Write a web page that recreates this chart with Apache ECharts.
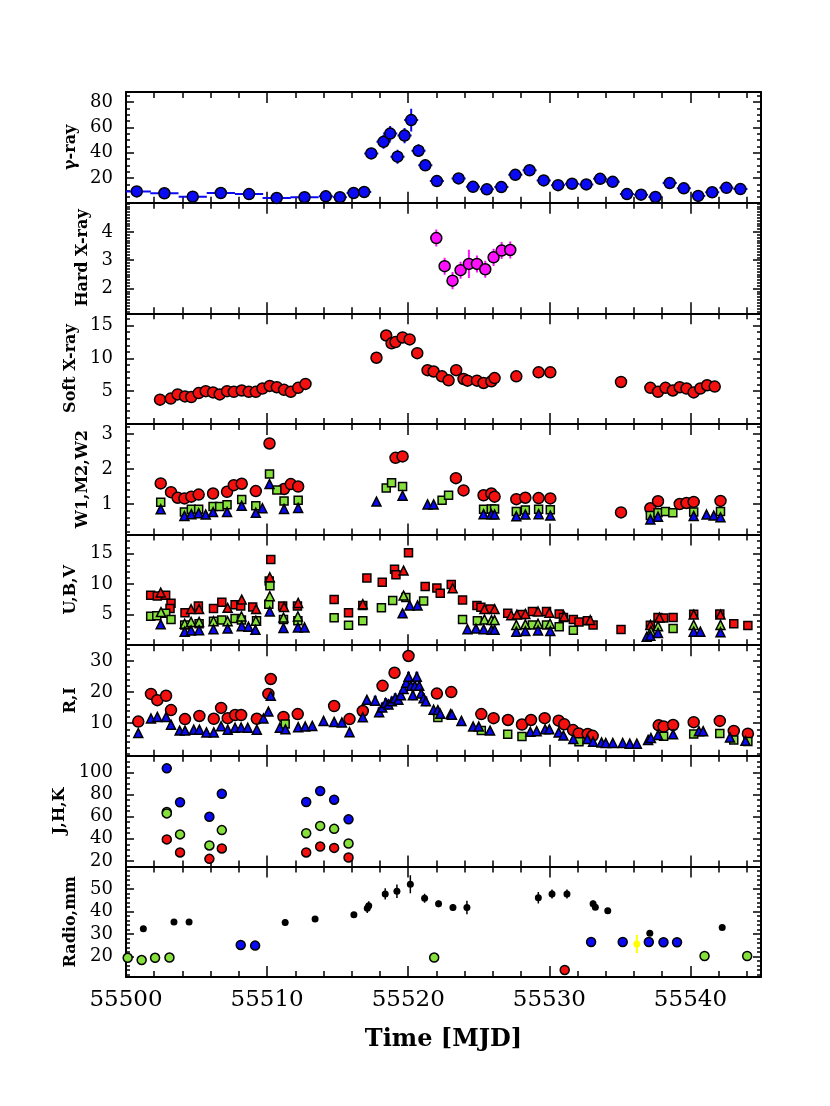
<!DOCTYPE html>
<html>
<head>
<meta charset="utf-8">
<script src="https://cdn.jsdelivr.net/npm/echarts@6/dist/echarts.min.js"></script>
<style>
  html, body { margin: 0; padding: 0; background: #fff; }
  #lightCurve { width: 830px; height: 1106px; }
</style>
</head>
<body>
<div id="lightCurve"></div>
<script>
// ---- data (MJD, value) ----
const xTicks = [55500, 55510, 55520, 55530, 55540];

// gamma-ray: time, flux, y error, half bin width
const gammaTime = [55500.76, 55502.72, 55504.73, 55506.72, 55508.72, 55510.68, 55512.65, 55514.16, 55515.16, 55516.13, 55516.88,
  55517.38, 55518.25, 55518.72, 55519.24, 55519.74, 55520.21, 55520.73, 55521.21,
  55522.03, 55523.57, 55524.59, 55525.57, 55526.60, 55527.59, 55528.60, 55529.60, 55530.62, 55531.61, 55532.62, 55533.60, 55534.49,
  55535.50, 55536.50, 55537.52, 55538.53, 55539.53, 55540.55, 55541.54, 55542.55, 55543.54];
const gammaFlux = [9.6, 8.1, 5.4, 8.3, 7.5, 4.4, 5.0, 5.7, 5.0, 8.3, 9.1,
  39.5, 48.6, 55.1, 36.9, 53.5, 65.7, 41.6, 30.1,
  17.7, 19.8, 13.2, 11.2, 13.0, 22.6, 26.2, 18.2, 14.5, 15.6, 15.1, 19.5, 17.1,
  7.5, 7.0, 5.2, 16.1, 12.0, 6.0, 8.9, 12.4, 11.4];
const gammaErr = [1.5, 1.5, 1.5, 1.5, 1.5, 1.5, 1.5, 1.5, 1.5, 2, 2,
  4.5, 5.5, 6, 5.5, 6, 9, 5, 4.5,
  2.5, 2, 2, 2, 2, 2.5, 2.5, 2, 2, 2, 2, 2, 2,
  1.5, 1.5, 1.5, 2, 2, 1.5, 1.5, 2, 1.5];
const gammaBin = [1, 1, 1, 1, 1, 1, 1, 0.5, 0.5, 0.5, 0.5,
  0.5, 0.5, 0.5, 0.5, 0.5, 0.5, 0.5, 0.5,
  0.5, 0.5, 0.5, 0.5, 0.5, 0.5, 0.5, 0.5, 0.5, 0.5, 0.5, 0.5, 0.5,
  0.5, 0.5, 0.5, 0.5, 0.5, 0.5, 0.5, 0.5, 0.5];

const hardTime = [55521.99, 55522.58, 55523.14, 55523.71, 55524.30, 55524.87, 55525.46, 55526.05, 55526.62, 55527.23];
const hardFlux = [3.78, 2.79, 2.28, 2.65, 2.87, 2.87, 2.68, 3.10, 3.34, 3.36];
const hardErr = [0.3, 0.3, 0.3, 0.3, 0.5, 0.3, 0.3, 0.3, 0.3, 0.3];

const softX = [[55502.41, 3.7], [55503.17, 3.86], [55503.66, 4.5], [55504.18, 4.2], [55504.63, 4.1], [55505.15, 4.7], [55505.65, 5.0],
  [55506.17, 4.8], [55506.64, 4.5], [55507.16, 5.0], [55507.64, 4.9], [55508.2, 5.1], [55508.7, 4.9], [55509.2, 4.9], [55509.67, 5.4],
  [55510.19, 5.8], [55510.69, 5.6], [55511.2, 5.2], [55511.68, 4.9], [55512.2, 5.5], [55512.72, 6.1],
  [55517.75, 10.1], [55518.44, 13.5], [55518.82, 12.3], [55519.1, 12.5], [55519.6, 13.2], [55520.1, 12.9], [55520.64, 10.8],
  [55521.37, 8.2], [55521.8, 8.0], [55522.39, 7.26], [55522.86, 6.65], [55523.4, 8.2], [55523.92, 6.86], [55524.2, 6.6],
  [55524.87, 6.6], [55525.34, 6.25], [55525.89, 6.5], [55526.12, 7.0], [55527.66, 7.26], [55529.24, 7.87], [55530.07, 7.87],
  [55535.08, 6.4], [55537.16, 5.5], [55537.7, 4.9], [55538.23, 5.5], [55538.75, 5.1], [55539.24, 5.6], [55539.72, 5.4],
  [55540.23, 4.8], [55540.7, 5.4], [55541.18, 5.9], [55541.72, 5.7]];

const uvotW2 = [[55502.46, 1.59], [55503.19, 1.34], [55503.66, 1.18], [55504.14, 1.16], [55504.63, 1.21], [55505.15, 1.27], [55506.17, 1.30],
  [55507.16, 1.35], [55507.64, 1.54], [55508.2, 1.58], [55509.2, 1.37], [55510.17, 2.73], [55511.2, 1.43], [55511.68, 1.57], [55512.2, 1.50],
  [55519.1, 2.32], [55519.6, 2.36], [55523.38, 1.74], [55523.92, 1.39], [55525.34, 1.25], [55525.89, 1.30], [55526.12, 1.21],
  [55527.66, 1.14], [55528.3, 1.18], [55529.24, 1.17], [55530.07, 1.16], [55535.08, 0.76], [55537.16, 0.88], [55537.7, 1.08],
  [55539.24, 1.0], [55539.72, 1.03], [55540.23, 1.06], [55542.13, 1.09]];
const uvotM2 = [[55502.46, 1.05], [55504.14, 0.77], [55504.63, 0.85], [55505.15, 0.85], [55506.17, 0.93], [55506.64, 0.93], [55507.16, 0.98],
  [55508.2, 1.13], [55509.2, 0.95], [55510.17, 1.86], [55510.69, 1.40], [55511.2, 1.09], [55512.2, 1.11], [55518.44, 1.46], [55518.82, 1.61],
  [55519.6, 1.50], [55522.4, 1.11], [55522.86, 1.25], [55525.34, 0.85], [55525.89, 0.86], [55526.12, 0.86], [55527.66, 0.79],
  [55528.3, 0.83], [55529.24, 0.85], [55530.07, 0.84], [55537.16, 0.67], [55537.7, 0.75], [55538.23, 0.79], [55538.75, 0.75],
  [55540.23, 0.77], [55542.13, 0.79]];
const uvotW1 = [[55502.46, 0.85], [55504.14, 0.66], [55504.63, 0.71], [55505.15, 0.74], [55505.65, 0.70], [55506.17, 0.77], [55507.16, 0.77],
  [55508.2, 0.95], [55509.2, 0.75], [55509.67, 0.88], [55510.17, 1.57], [55511.2, 0.86], [55512.2, 0.89], [55517.75, 1.07], [55519.6, 1.24],
  [55521.37, 0.99], [55521.8, 0.99], [55525.34, 0.71], [55525.89, 0.71], [55526.12, 0.70], [55527.66, 0.65], [55528.3, 0.70],
  [55529.24, 0.71], [55530.07, 0.67], [55537.16, 0.56], [55537.7, 0.64], [55540.23, 0.66], [55541.14, 0.70], [55541.65, 0.67],
  [55542.13, 0.62]];

const uSquares = [[55501.75, 8.16], [55502.22, 8.05], [55502.81, 8.16], [55503.19, 6.85], [55503.12, 6.0], [55504.18, 5.3], [55505.13, 6.4],
  [55506.2, 6.0], [55506.79, 7.0], [55507.73, 6.6], [55508.13, 6.4], [55508.98, 6.25], [55510.15, 10.5], [55510.26, 14.0], [55511.1, 6.4],
  [55512.15, 6.4], [55514.75, 7.45], [55515.77, 5.3], [55516.78, 6.5], [55517.07, 11.0], [55518.16, 10.3], [55519.03, 12.4], [55519.13, 11.5],
  [55520.02, 15.1], [55521.2, 9.6], [55522.03, 9.35], [55522.27, 8.5], [55523.05, 9.9], [55523.85, 7.4], [55524.87, 6.5], [55525.15, 6.2],
  [55525.82, 5.9], [55527.05, 5.2], [55528.06, 5.0], [55528.8, 5.5], [55529.8, 5.5], [55530.7, 5.1], [55531.0, 4.5], [55531.7, 4.2],
  [55532.1, 3.8], [55532.7, 4.0], [55533.1, 3.3], [55535.08, 2.55], [55537.16, 3.26], [55537.7, 4.5], [55538.1, 4.45], [55538.77, 4.5],
  [55540.23, 5.05], [55542.08, 5.1], [55543.07, 3.5], [55544.07, 3.2]];
const uTriangles = [[55502.46, 8.6], [55504.61, 5.9], [55505.18, 5.9], [55507.2, 6.1], [55508.2, 7.45], [55509.22, 5.9], [55510.19, 11.1],
  [55511.2, 6.25], [55512.2, 6.9], [55516.78, 6.7], [55519.67, 12.2], [55523.15, 9.3], [55525.4, 5.9], [55526.12, 5.9], [55527.3, 4.9],
  [55527.7, 5.0], [55528.3, 5.1], [55529.2, 5.5], [55530.0, 5.3], [55531.05, 4.7], [55532.9, 4.1], [55537.16, 3.3], [55537.8, 4.5],
  [55540.23, 5.0], [55542.13, 5.0]];
const bSquares = [[55501.75, 4.73], [55502.18, 4.8], [55502.81, 5.2], [55503.19, 4.2], [55504.16, 3.3], [55505.18, 3.5], [55506.2, 3.9],
  [55506.79, 4.1], [55507.73, 4.35], [55508.18, 4.1], [55509.25, 4.0], [55510.12, 6.7], [55510.2, 9.7], [55511.16, 4.2], [55512.18, 4.0],
  [55514.75, 4.46], [55515.77, 3.26], [55516.78, 4.0], [55518.1, 6.1], [55518.9, 7.3], [55519.83, 7.8], [55521.09, 7.2], [55523.85, 4.2],
  [55524.9, 4.0], [55528.8, 3.3], [55529.8, 3.3], [55530.7, 3.0], [55531.7, 2.45], [55538.77, 2.7]];
const bTriangles = [[55502.48, 5.4], [55504.16, 3.5], [55504.61, 3.8], [55505.18, 3.8], [55506.2, 3.9], [55507.2, 3.9], [55508.18, 4.7],
  [55509.2, 4.0], [55510.19, 8.0], [55511.16, 4.5], [55512.18, 4.7], [55519.67, 8.1], [55525.4, 4.2], [55525.9, 4.1], [55526.12, 4.1],
  [55527.66, 3.3], [55528.3, 3.4], [55529.2, 3.5], [55530.05, 3.5], [55537.2, 2.3], [55537.7, 3.1], [55540.23, 3.3], [55542.13, 3.3]];
const vTriangles = [[55502.46, 3.4], [55504.16, 2.2], [55504.61, 2.4], [55505.18, 2.45], [55506.2, 2.6], [55507.2, 2.7], [55508.2, 3.1],
  [55508.68, 3.0], [55509.17, 2.5], [55510.19, 5.5], [55511.16, 2.8], [55512.18, 2.9], [55512.65, 2.9], [55519.6, 5.2], [55520.1, 6.5],
  [55520.66, 6.5], [55524.2, 2.6], [55524.8, 2.7], [55525.35, 2.6], [55525.9, 2.5], [55526.12, 2.5], [55527.66, 2.2], [55528.3, 2.3],
  [55529.2, 2.4], [55530.07, 2.3], [55536.9, 1.35], [55537.16, 1.55], [55537.7, 2.0], [55540.23, 2.2], [55540.7, 2.2], [55542.13, 2.1]];

const rCircles = [[55500.87, 10.5], [55501.77, 19.4], [55502.22, 17.4], [55502.84, 18.8], [55503.19, 14.2], [55504.18, 11.3], [55505.2, 12.3],
  [55506.22, 11.4], [55506.74, 14.9], [55507.21, 11.6], [55507.73, 12.6], [55508.16, 12.6], [55509.27, 11.4], [55510.09, 19.4], [55510.26, 24.2],
  [55511.16, 12.0], [55512.17, 12.9], [55514.75, 15.5], [55515.84, 11.3], [55516.78, 13.9], [55518.18, 22.0], [55519.03, 26.2], [55520.02, 31.6],
  [55522.03, 19.5], [55523.05, 20.0], [55525.18, 12.9], [55526.05, 11.6], [55527.07, 11.0], [55528.06, 9.55], [55528.7, 11.0], [55529.67, 11.6],
  [55530.66, 10.8], [55531.06, 9.6], [55531.68, 7.75], [55532.08, 6.7], [55532.72, 6.5], [55533.07, 5.9], [55537.75, 9.3], [55538.1, 8.9],
  [55538.77, 9.4], [55540.23, 10.3], [55542.08, 10.7], [55543.07, 7.5], [55544.07, 6.6]];
const iTriangles = [[55500.87, 6.8], [55501.77, 11.5], [55502.22, 12.0], [55502.84, 12.0], [55503.19, 9.5], [55503.8, 7.6], [55504.18, 7.6],
  [55504.8, 7.9], [55505.2, 7.9], [55505.7, 7.0], [55506.22, 7.0], [55506.74, 9.0], [55507.21, 7.9], [55507.73, 8.5], [55508.16, 8.6],
  [55508.63, 8.5], [55509.27, 7.9], [55509.74, 11.5], [55510.09, 13.7], [55510.26, 18.8], [55510.9, 8.5], [55511.3, 8.0], [55512.2, 8.7],
  [55512.7, 8.9], [55513.2, 9.1], [55514.0, 10.7], [55514.75, 10.4], [55515.3, 10.2], [55515.84, 7.1], [55516.78, 11.9], [55517.07, 17.5],
  [55517.66, 17.2], [55517.94, 13.5], [55518.16, 15.0], [55518.4, 16.5], [55518.6, 16.0], [55518.84, 17.0], [55519.08, 18.0], [55519.3, 17.5],
  [55519.48, 19.0], [55519.67, 21.0], [55519.86, 23.0], [55520.02, 24.9], [55520.19, 22.0], [55520.33, 19.0], [55520.47, 22.0], [55520.61, 24.9],
  [55520.78, 22.0], [55520.92, 19.5], [55521.09, 18.0], [55521.25, 17.0], [55521.8, 14.3], [55522.1, 14.2], [55522.27, 13.0], [55523.0, 12.9],
  [55523.1, 12.7], [55523.77, 10.7], [55524.6, 8.9], [55525.0, 8.9], [55525.8, 7.6], [55528.65, 7.2], [55529.1, 7.4], [55529.7, 8.0],
  [55530.0, 8.0], [55530.66, 7.0], [55531.0, 6.0], [55531.7, 4.9], [55532.7, 4.9], [55533.1, 4.0], [55533.7, 3.8], [55534.0, 3.6],
  [55534.5, 3.6], [55535.2, 3.6], [55535.7, 3.4], [55536.2, 3.4], [55537.0, 4.6], [55537.2, 5.2], [55537.7, 6.2], [55538.77, 6.4],
  [55540.6, 7.4], [55540.9, 7.4], [55542.8, 5.4], [55543.9, 4.3]];
const iFlareErr = 1.6;
const rSquares = [[55511.28, 9.7], [55522.1, 11.8], [55525.18, 7.6], [55527.05, 6.4], [55528.06, 5.7], [55532.1, 4.0], [55538.1, 5.8],
  [55540.23, 6.5], [55542.08, 6.7], [55543.07, 4.6], [55544.07, 4.1]];

const jBand = [[55502.89, 103.6], [55503.83, 72.9], [55505.91, 59.8], [55506.79, 80.6], [55512.77, 73.2], [55513.76, 83.1], [55514.75, 75.3], [55515.77, 57.5]];
const hBand = [[55502.89, 64.1], [55502.89, 62.9], [55503.83, 43.9], [55505.91, 33.9], [55506.79, 47.8], [55512.77, 45.0], [55513.76, 51.6], [55514.75, 48.9], [55515.77, 35.7]];
const kBand = [[55502.89, 39.4], [55503.83, 27.6], [55505.91, 21.8], [55506.79, 31.2], [55512.77, 27.6], [55513.76, 32.9], [55514.75, 31.7], [55515.77, 23.0]];

// radio: time, flux, error
const radioBlack = [[55501.23, 32.4, 1], [55503.4, 35.4, 1], [55504.47, 35.4, 1], [55511.28, 35.1, 1.5], [55513.4, 36.7, 1], [55516.15, 38.6, 1],
  [55517.1, 41.4, 2], [55517.2, 42.6, 2], [55518.37, 47.8, 2.5], [55519.2, 49.0, 3], [55520.15, 52.1, 4], [55521.16, 45.9, 2], [55522.15, 43.4, 1.5],
  [55523.17, 41.8, 1.5], [55524.16, 41.8, 3], [55529.22, 46.1, 2.5], [55530.19, 47.8, 2], [55531.25, 47.8, 2], [55533.1, 43.4, 1.5],
  [55533.26, 41.9, 1], [55534.14, 40.4, 1], [55537.12, 30.4, 1], [55542.25, 32.9, 1]];
const radioGreen = [[55500.12, 19.5], [55501.11, 18.5], [55502.06, 19.5], [55503.08, 19.6], [55521.84, 19.6], [55541.0, 20.3], [55544.02, 20.3]];
const radioBlue = [[55508.13, 25.2], [55509.15, 24.9], [55532.96, 26.5], [55535.2, 26.5], [55537.05, 26.5], [55538.09, 26.4], [55539.05, 26.4]];
const radioRed = [[55531.09, 14.1]];
const radioYellow = [[55536.2, 25.6, 4]];

// ---- panels ----
const panels = [
  { label: 'γ-ray',      min: 0.75, max: 87.8, ticks: [20, 40, 60, 80],         minor: 5,   gap: 46 },
  { label: 'Hard X-ray', min: 1.13, max: 5.03, ticks: [2, 3, 4],                minor: 0.1, gap: 29 },
  { label: 'Soft X-ray', min: 0,    max: 16.9, ticks: [5, 10, 15],              minor: 1,   gap: 46 },
  { label: 'W1,M2,W2',   min: 0.13, max: 3.29, ticks: [1, 2, 3],                minor: 0.2, gap: 29 },
  { label: 'U,B,V',      min: 0,    max: 18.1, ticks: [5, 10, 15],              minor: 1,   gap: 46 },
  { label: 'R,I',        min: -0.5, max: 35.1, ticks: [10, 20, 30],             minor: 2,   gap: 46 },
  { label: 'J,H,K',      min: 15,   max: 115,  ticks: [20, 40, 60, 80, 100],    minor: 5,   gap: 52 },
  { label: 'Radio,mm',   min: 11,   max: 60,   ticks: [20, 30, 40, 50],         minor: 2,   gap: 46 }
];

const BLUE = '#0a0af5', RED = '#f51010', GREEN = '#86e03c', MAGENTA = '#ff10ff', YELLOW = '#ffff00';
const SERIF = "'DejaVu Serif', serif";
const PANEL_TOP = 92, PANEL_H = 110.625, X_MIN = 55500, X_MAX = 55545;

function minorValues(min, max, step, majors) {
  const out = [];
  for (let v = Math.ceil(min / step) * step; v <= max + 1e-9; v += step) {
    const r = Math.round(v * 1000) / 1000;
    if (!majors.some(m => Math.abs(m - r) < 1e-6)) out.push(r);
  }
  return out;
}
const xMinor = minorValues(X_MIN, X_MAX, 2, xTicks);

const grids = [], xAxes = [], yAxes = [], series = [];
const blackLine = { color: '#000', width: 2 };
const tickLine = { color: '#000', width: 1.5 };

panels.forEach((p, i) => {
  const last = i === panels.length - 1;
  grids.push({ left: 126, width: 635, top: PANEL_TOP + i * PANEL_H, height: PANEL_H });
  const xb = { type: 'value', gridIndex: i, min: X_MIN, max: X_MAX, splitLine: { show: false } };
  const mkX = (pos, major) => ({
    ...xb, position: pos,
    axisLine: { show: major, onZero: false, lineStyle: blackLine },
    axisTick: { show: true, inside: true, length: major ? 11 : 6, customValues: major ? xTicks : xMinor, lineStyle: tickLine },
    axisLabel: { show: false }
  });
  const xMain = mkX('bottom', true);
  if (last) {
    xMain.axisLabel = { show: true, customValues: xTicks, margin: 12, fontFamily: SERIF, fontSize: 23, color: '#000', formatter: v => String(v) };
    xMain.name = 'Time [MJD]';
    xMain.nameLocation = 'middle';
    xMain.nameGap = 51;
    xMain.nameTextStyle = { fontFamily: SERIF, fontWeight: 'bold', fontSize: 24, color: '#000' };
  }
  xAxes.push(xMain, mkX('bottom', false), mkX('top', true), mkX('top', false));

  const yMinor = minorValues(p.min, p.max, p.minor, p.ticks);
  const yb = { type: 'value', gridIndex: i, min: p.min, max: p.max, splitLine: { show: false } };
  const mkY = (pos, major) => ({
    ...yb, position: pos,
    axisLine: { show: major, onZero: false, lineStyle: blackLine },
    axisTick: { show: true, inside: true, length: major ? 8 : 4, customValues: major ? p.ticks : yMinor, lineStyle: tickLine },
    axisLabel: { show: false }
  });
  const yMain = mkY('left', true);
  yMain.axisLabel = { show: true, customValues: p.ticks, margin: 13, fontFamily: SERIF, fontSize: 18, color: '#000', formatter: v => String(v) };
  yMain.name = p.label;
  yMain.nameLocation = 'middle';
  yMain.nameRotate = 90;
  yMain.nameGap = p.gap;
  yMain.nameTextStyle = { fontFamily: SERIF, fontWeight: 'bold', fontSize: 16, color: '#000' };
  yAxes.push(yMain, mkY('left', false), mkY('right', true), mkY('right', false));
});

function dots(i, data, color, symbol, size, border) {
  return {
    type: 'scatter', xAxisIndex: 4 * i, yAxisIndex: 4 * i, z: 3,
    symbol: symbol, symbolSize: size,
    itemStyle: { color: color, borderColor: '#000', borderWidth: border === undefined ? 1.5 : border, opacity: 1 },
    data: data.map(d => [d[0], d[1]])
  };
}

// rows: [t, y, yErr, tHalfWidth]
function errorBars(i, rows, color, width) {
  return {
    type: 'custom', xAxisIndex: 4 * i, yAxisIndex: 4 * i, z: 2, clip: true,
    encode: { x: 0, y: 1 },
    data: rows,
    renderItem: function (params, api) {
      const t = api.value(0), y = api.value(1), ey = api.value(2), et = api.value(3);
      const kids = [];
      if (ey > 0) {
        const lo = api.coord([t, y - ey]), hi = api.coord([t, y + ey]);
        kids.push({ type: 'line', shape: { x1: lo[0], y1: lo[1], x2: hi[0], y2: hi[1] }, style: { stroke: color, lineWidth: width } });
      }
      if (et > 0) {
        const l = api.coord([t - et, y]), r = api.coord([t + et, y]);
        kids.push({ type: 'line', shape: { x1: l[0], y1: l[1], x2: r[0], y2: r[1] }, style: { stroke: color, lineWidth: width } });
      }
      return { type: 'group', children: kids };
    }
  };
}

// panel 0: gamma
series.push(errorBars(0, gammaTime.map((t, k) => [t, gammaFlux[k], gammaErr[k], gammaBin[k]]), BLUE, 2));
series.push(dots(0, gammaTime.map((t, k) => [t, gammaFlux[k]]), BLUE, 'circle', 11));
// panel 1: hard X-ray
series.push(errorBars(1, hardTime.map((t, k) => [t, hardFlux[k], hardErr[k], 0]), MAGENTA, 2));
series.push(dots(1, hardTime.map((t, k) => [t, hardFlux[k]]), MAGENTA, 'circle', 11));
// panel 2: soft X-ray
series.push(dots(2, softX, RED, 'circle', 11));
// panel 3: UVOT
series.push(dots(3, uvotW2, RED, 'circle', 11));
series.push(dots(3, uvotM2, GREEN, 'rect', 8));
series.push(dots(3, uvotW1, BLUE, 'triangle', 9));
// panel 4: U,B,V
series.push(dots(4, uSquares, RED, 'rect', 8));
series.push(dots(4, bSquares, GREEN, 'rect', 8));
series.push(dots(4, uTriangles, RED, 'triangle', 9));
series.push(dots(4, bTriangles, GREEN, 'triangle', 9));
series.push(dots(4, vTriangles, BLUE, 'triangle', 9));
// panel 5: R,I
series.push(dots(5, rCircles, RED, 'circle', 11));
series.push(errorBars(5, iTriangles.filter(d => d[0] > 55517.5 && d[0] < 55521.5).map(d => [d[0], d[1], iFlareErr, 0]), BLUE, 3));
series.push(dots(5, rSquares, GREEN, 'rect', 8));
series.push(dots(5, iTriangles, BLUE, 'triangle', 9));
// panel 6: J,H,K
series.push(dots(6, kBand, RED, 'circle', 9));
series.push(dots(6, hBand, GREEN, 'circle', 9));
series.push(dots(6, jBand, BLUE, 'circle', 9));
// panel 7: radio
series.push(errorBars(7, radioBlack.map(d => [d[0], d[1], d[2], 0]), '#000', 1.5));
series.push(dots(7, radioBlack, '#000', 'circle', 7, 0));
series.push(dots(7, radioGreen, GREEN, 'circle', 9));
series.push(dots(7, radioBlue, BLUE, 'circle', 9));
series.push(dots(7, radioRed, RED, 'circle', 9));
series.push(errorBars(7, radioYellow.map(d => [d[0], d[1], d[2], 0]), YELLOW, 2));
series.push(dots(7, radioYellow, YELLOW, 'circle', 7, 0));

const chart = echarts.init(document.getElementById('lightCurve'), null, { renderer: 'canvas' });
chart.setOption({
  animation: false,
  backgroundColor: '#fff',
  grid: grids,
  xAxis: xAxes,
  yAxis: yAxes,
  series: series
});
</script>
</body>
</html>
